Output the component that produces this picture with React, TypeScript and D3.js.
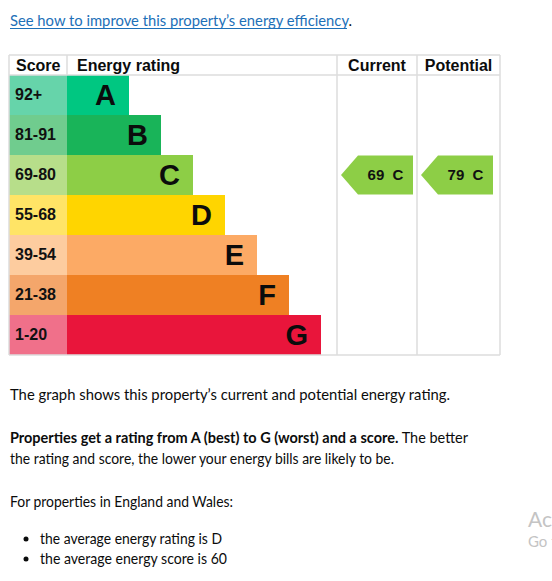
import React from "react";
import * as d3 from "d3";

const bands = ["A", "B", "C", "D", "E", "F", "G"];
const scoreRanges = ["92+", "81-91", "69-80", "55-68", "39-54", "21-38", "1-20"];
const bandMin = [92, 81, 69, 55, 39, 21, 1];
const barColors = ["#00c781", "#19b459", "#8dce46", "#ffd500", "#fcaa65", "#ef8023", "#e9153b"];
const scoreColors = ["#66d4aa", "#70cc8e", "#b7de8a", "#ffe466", "#fdcc9f", "#f4a66b", "#f0708a"];
const currentScore = 69;
const potentialScore = 79;
const headers = ["Score", "Energy rating", "Current", "Potential"];

const linkText = "See how to improve this property\u2019s energy efficiency";
const para1 = "The graph shows this property\u2019s current and potential energy rating.";
const para2Bold = "Properties get a rating from A (best) to G (worst) and a score.";
const para2Rest = " The better";
const para2Line2 = "the rating and score, the lower your energy bills are likely to be.";
const para3 = "For properties in England and Wales:";
const bullets = ["the average energy rating is D", "the average energy score is 60"];

const bandOf = (s: number) => bands[bandMin.findIndex((m) => s >= m)];

export default function App() {
  const left = 9, right = 500, top = 55, headerBottom = 75, bottom = 355;
  const scoreColEnd = 67, curColStart = 337, potColStart = 417;
  const y = d3.scaleBand<string>().domain(bands).range([headerBottom, bottom]).padding(0);
  const barEnd = d3.scaleLinear().domain([0, bands.length - 1]).range([129, 321]);
  const bh = y.bandwidth();
  const chartFont = "'Liberation Sans', Arial, sans-serif";
  const textFont = "Lato, 'Noto Sans', sans-serif";
  const grid = "#dcdcdc";

  const arrow = (x0: number, x1: number, b: string, label: string) => {
    const yt = (y(b) as number) + 0.5;
    const yb = (y(b) as number) + bh - 0.5;
    const tip = 17;
    const path = d3.path();
    path.moveTo(x0, (yt + yb) / 2);
    path.lineTo(x0 + tip, yt);
    path.lineTo(x1, yt);
    path.lineTo(x1, yb);
    path.lineTo(x0 + tip, yb);
    path.closePath();
    return (
      <g>
        <path d={path.toString()} fill={barColors[bands.indexOf(b)]} />
        <text x={(x0 + tip + x1) / 2} y={(yt + yb) / 2 + 5} textAnchor="middle" fontFamily={chartFont} fontWeight="bold" fontSize={15} fill="#111" style={{ whiteSpace: "pre" }}>
          {label}
        </text>
      </g>
    );
  };

  const cb = bandOf(currentScore);
  const pb = bandOf(potentialScore);

  return (
    <svg width={552} height={581} style={{ position: "absolute", left: 0, top: 0, background: "#fff" }}>
      <rect width={552} height={581} fill="#fff" />
      <text x={10} y={26} fontFamily={textFont} fontSize={16} textLength={342} lengthAdjust="spacingAndGlyphs">
        <tspan fill="#1d70b8">{linkText}</tspan>
        <tspan fill="#0b0c0c">.</tspan>
      </text>
      <line x1={10} x2={347} y1={28.5} y2={28.5} stroke="#1d70b8" strokeWidth={1} />

      {/* rows */}
      {bands.map((b, i) => (
        <g key={b}>
          <rect x={left} y={y(b)} width={scoreColEnd - left} height={bh} fill={scoreColors[i]} />
          <rect x={scoreColEnd} y={y(b)} width={barEnd(i) - scoreColEnd} height={bh} fill={barColors[i]} />
          <text x={15} y={(y(b) as number) + bh / 2 + 5} fontFamily={chartFont} fontWeight="bold" fontSize={16} fill="#111">
            {scoreRanges[i]}
          </text>
          <text x={barEnd(i) - 13} y={(y(b) as number) + bh / 2 + 10} textAnchor="end" fontFamily={chartFont} fontWeight="bold" fontSize={29} fill="#0b0c0c">
            {b}
          </text>
        </g>
      ))}

      {/* grid */}
      <g stroke={grid} strokeWidth={1.5} fill="none">
        <line x1={left} x2={right} y1={top} y2={top} />
        <line x1={left} x2={right} y1={headerBottom} y2={headerBottom} />
        <line x1={left} x2={right} y1={bottom} y2={bottom} />
        <line x1={left} x2={left} y1={top} y2={bottom} />
        <line x1={scoreColEnd} x2={scoreColEnd} y1={top} y2={headerBottom} />
        <line x1={curColStart} x2={curColStart} y1={top} y2={bottom} />
        <line x1={potColStart} x2={potColStart} y1={top} y2={bottom} />
        <line x1={right} x2={right} y1={top} y2={bottom} />
      </g>

      {/* headers */}
      <g fontFamily={chartFont} fontWeight="bold" fontSize={16} fill="#0b0c0c">
        <text x={16} y={71}>{headers[0]}</text>
        <text x={77} y={71}>{headers[1]}</text>
        <text x={(curColStart + potColStart) / 2} y={71} textAnchor="middle">{headers[2]}</text>
        <text x={(potColStart + right) / 2} y={71} textAnchor="middle">{headers[3]}</text>
      </g>

      {arrow(341, 413, cb, `${currentScore}  ${cb}`)}
      {arrow(421, 493, pb, `${potentialScore}  ${pb}`)}

      {/* text */}
      <g fontFamily={textFont} fontSize={16} fill="#0b0c0c">
        <text x={10} y={400} textLength={440} lengthAdjust="spacingAndGlyphs">{para1}</text>
        <text x={10} y={443} textLength={458} lengthAdjust="spacingAndGlyphs" style={{ whiteSpace: "pre" }}>
          <tspan fontWeight="bold">{para2Bold}</tspan>
          <tspan>{para2Rest}</tspan>
        </text>
        <text x={10} y={464} textLength={384} lengthAdjust="spacingAndGlyphs">{para2Line2}</text>
        <text x={10} y={507} textLength={223} lengthAdjust="spacingAndGlyphs">{para3}</text>
        {bullets.map((t, i) => (
          <g key={t}>
            <circle cx={26} cy={539 + i * 20} r={2.5} fill="#0b0c0c" />
            <text x={40} y={544 + i * 20} textLength={i === 0 ? 182 : 187} lengthAdjust="spacingAndGlyphs">{t}</text>
          </g>
        ))}
      </g>
      <text x={528} y={527} fontFamily={textFont} fontSize={21} fill="#c4c4c4">Activate Windows</text>
      <text x={528} y={547} fontFamily={textFont} fontSize={15} fill="#c4c4c4">Go to Settings to activate Windows.</text>
    </svg>
  );
}
